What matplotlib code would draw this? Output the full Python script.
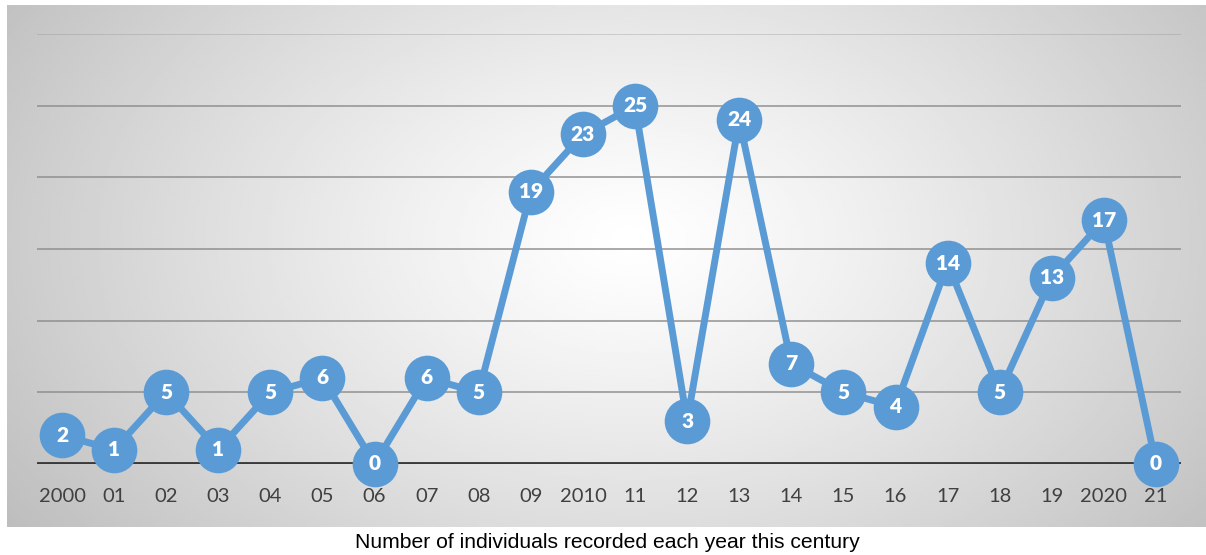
import numpy as np
import matplotlib
matplotlib.use('Agg')
import matplotlib.pyplot as plt

# data
years = ['2000', '01', '02', '03', '04', '05', '06', '07', '08', '09', '2010',
         '11', '12', '13', '14', '15', '16', '17', '18', '19', '2020', '21']
counts = [2, 1, 5, 1, 5, 6, 0, 6, 5, 19, 23, 25, 3, 24, 7, 5, 4, 14, 5, 13, 17, 0]

W, H = 1206, 555
fig = plt.figure(figsize=(W / 100, H / 100), dpi=100)

# gradient backdrop box
bg = fig.add_axes([7 / W, 1 - 527 / H, (W - 7) / W, (527 - 5) / H])
bg.set_axis_off()
gx, gy = np.meshgrid(np.linspace(0, 1, 400), np.linspace(0, 1, 200))
r = np.sqrt(((gx - 0.52) / 0.72) ** 2 + ((gy - 0.55) / 1.1) ** 2)
shade = 1.0 - 0.30 * np.clip(r, 0, 1) ** 1.2
bg.imshow(shade, cmap='gray', vmin=0, vmax=1, aspect='auto',
          extent=[0, 1, 0, 1], origin='lower')
bg.set_xlim(0, 1)
bg.set_ylim(0, 1)

ax = fig.add_axes([37 / W, 1 - 464 / H, (1181 - 37) / W, (464 - 34) / H])
ax.patch.set_alpha(0)
x = np.arange(len(years))
ax.set_xlim(-0.48, len(years) - 1 + 0.48)
ax.set_ylim(0, 30)

for yv in range(5, 31, 5):
    ax.axhline(yv, color='#8c8c8c', lw=1.3, alpha=0.8 if yv < 30 else 0.35, zorder=1)
ax.axhline(0, color='#3a3a3a', lw=3.5, zorder=2)

blue = '#5b9bd5'
ax.plot(x, counts, color=blue, lw=5, zorder=3, solid_capstyle='round')
ax.scatter(x, counts, s=1080, color=blue, zorder=4, linewidths=0, clip_on=False)
for xi, c in zip(x, counts):
    ax.text(xi, c, str(c), ha='center', va='center', color='white',
            fontsize=15, fontweight='heavy', family='Lato', zorder=5)

for s in ax.spines.values():
    s.set_visible(False)
ax.set_yticks([])
ax.set_xticks(x)
ax.set_xticklabels(years, family='Lato', fontsize=14.5, color='#404040')
ax.tick_params(axis='x', length=0, pad=17)

fig.text(607 / W, 1 - 543 / H, 'Number of individuals recorded each year this century',
         ha='center', va='center', family='Liberation Sans', fontsize=15.2, color='black')

fig.savefig('out.png', dpi=100)
